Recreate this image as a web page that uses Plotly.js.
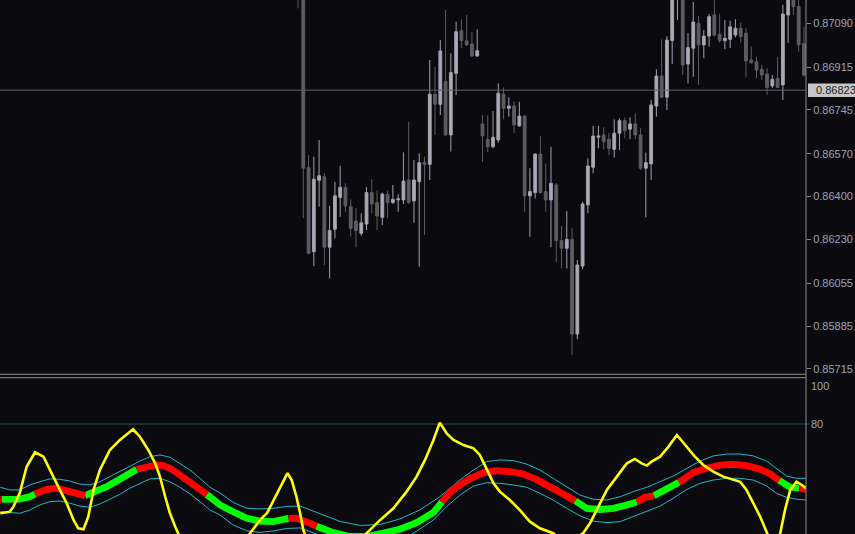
<!DOCTYPE html>
<html>
<head>
<meta charset="utf-8">
<script src="https://cdn.plot.ly/plotly-3.0.1.min.js"></script>
<style>
html,body{margin:0;padding:0;background:#0b0b0f;}
#chart{width:855px;height:534px;}
</style>
</head>
<body>
<div id="chart"></div>
<script>
// ---------- price panel data (bar -1 .. 95) ----------
const open = [0.87241,0.87221,0.86515,0.86181,0.86465,0.86479,0.86199,0.86270,0.86397,0.86437,
0.86360,0.86303,0.86254,0.86291,0.86416,0.86376,0.86318,0.86409,0.86377,0.86387,
0.86387,0.86466,0.86383,0.86459,0.86536,0.86528,0.86807,0.86767,0.86857,0.86645,
0.86890,0.87059,0.87019,0.87007,0.86959,0.86689,0.86628,0.86598,0.86625,0.86807,
0.86751,0.86760,0.86681,0.86720,0.86403,0.86416,0.86569,0.86420,0.86387,0.86446,
0.86225,0.86195,0.86230,0.85854,0.86124,0.86367,0.86517,0.86636,0.86645,0.86628,
0.86588,0.86652,0.86702,0.86668,0.86689,0.86645,0.86513,0.86530,0.86760,0.86879,
0.86795,0.87020,0.87229,0.87213,0.86927,0.86990,0.87089,0.87003,0.87038,0.87122,
0.87045,0.87020,0.87025,0.87042,0.87069,0.87049,0.86943,0.86936,0.86906,0.86887,
0.86840,0.86870,0.86844,0.87122,0.87193,0.87155,0.87009];
const high = [0.87261,0.87229,0.86565,0.86559,0.86625,0.86494,0.86364,0.86459,0.86522,0.86453,
0.86389,0.86354,0.86334,0.86437,0.86469,0.86424,0.86416,0.86424,0.86446,0.86410,
0.86576,0.86698,0.86546,0.86572,0.86559,0.86943,0.86916,0.87022,0.87142,0.86970,
0.87095,0.87105,0.87122,0.87053,0.87065,0.86724,0.86724,0.86740,0.86850,0.86834,
0.86795,0.86777,0.86777,0.86724,0.86513,0.86572,0.86641,0.86532,0.86598,0.86455,
0.86283,0.86343,0.86274,0.86148,0.86380,0.86552,0.86681,0.86681,0.86676,0.86654,
0.86707,0.86711,0.86715,0.86715,0.86731,0.86672,0.86575,0.86784,0.86906,0.87025,
0.87038,0.87241,0.87281,0.87241,0.87050,0.87173,0.87118,0.87062,0.87126,0.87181,
0.87126,0.87102,0.87099,0.87105,0.87091,0.87069,0.86996,0.86956,0.86923,0.86910,
0.86883,0.86954,0.87162,0.87221,0.87213,0.87181,0.87075];
const low = [0.87148,0.86314,0.86172,0.86124,0.86360,0.86128,0.86075,0.86234,0.86320,0.86340,
0.86241,0.86199,0.86244,0.86267,0.86334,0.86267,0.86287,0.86314,0.86371,0.86340,
0.86371,0.86371,0.86296,0.86122,0.86248,0.86466,0.86645,0.86724,0.86641,0.86579,
0.86804,0.86990,0.86999,0.86956,0.86956,0.86539,0.86577,0.86592,0.86614,0.86707,
0.86718,0.86652,0.86678,0.86340,0.86241,0.86393,0.86413,0.86340,0.86199,0.86141,
0.86115,0.86115,0.85771,0.85833,0.86111,0.86334,0.86493,0.86592,0.86588,0.86565,
0.86556,0.86585,0.86632,0.86628,0.86628,0.86506,0.86318,0.86466,0.86718,0.86792,
0.86744,0.86927,0.87102,0.86883,0.86850,0.86876,0.86844,0.86950,0.86996,0.87036,
0.87012,0.86986,0.86990,0.87033,0.87012,0.86874,0.86929,0.86870,0.86864,0.86804,
0.86831,0.86831,0.86784,0.87011,0.87122,0.86976,0.86877];
const close = [0.87201,0.86513,0.86175,0.86469,0.86483,0.86199,0.86265,0.86403,0.86437,0.86363,
0.86274,0.86265,0.86296,0.86416,0.86371,0.86323,0.86410,0.86376,0.86389,0.86391,
0.86462,0.86377,0.86466,0.86535,0.86528,0.86807,0.86767,0.86979,0.86645,0.86893,
0.87055,0.87020,0.87003,0.86959,0.86980,0.86642,0.86598,0.86636,0.86811,0.86751,
0.86760,0.86685,0.86720,0.86403,0.86420,0.86569,0.86416,0.86387,0.86453,0.86225,
0.86195,0.86230,0.85854,0.86128,0.86371,0.86522,0.86641,0.86641,0.86618,0.86592,
0.86652,0.86702,0.86662,0.86689,0.86645,0.86513,0.86535,0.86764,0.86879,0.86795,
0.87022,0.87221,0.87253,0.86923,0.86992,0.87094,0.87003,0.87038,0.87115,0.87042,
0.87020,0.87029,0.87075,0.87069,0.87036,0.86939,0.86932,0.86903,0.86883,0.86834,
0.86866,0.86834,0.87126,0.87201,0.87155,0.87003,0.86883];
const firstBar = -1;

const priceTickVals = [0.87090,0.86915,0.86745,0.86570,0.86400,0.86230,0.86055,0.85885,0.85715];
const priceTickText = ['0.87090','0.86915','0.86745','0.86570','0.86400','0.86230','0.86055','0.85885','0.85715'];
const currentPrice = 0.86823;
const currentPriceText = '0.86823';

// ---------- oscillator panel data ----------
const oscTickVals = [100, 80];
const oscTickText = ['100', '80'];
const oscLevel = 80;

const yellowX = [-57.5,-55.7,-55.0,-53.8,-52.5,-50.9,-49.3,-48.1,-46.5,-44.9,-43.6,-42.7,-41.7,-40.8,-39.8,-38.6,-36.7,-34.8,-32.3,-31.0,
-29.4,-28.1,-27.2,-26.2,-25.3,-24.3,-23.0,-20.5,-17.5,-14.0,-11.5,-10.1,-8.2,-6.9,-5.0,-3.8,-3.0,-2.2,-1.3,-0.6,
0.0,1.0,4.0,7.5,10.5,12.0,14.6,17.1,19.6,21.5,23.1,24.7,25.9,27.2,28.5,30.4,32.3,33.5,34.8,36.1,
37.3,39.2,41.1,43.0,44.9,47.4,50.0,53.1,54.4,55.7,57.6,59.5,61.4,62.9,64.2,65.2,66.1,67.7,69.3,70.9,
72.8,74.3,75.9,77.8,79.7,81.6,82.9,84.1,85.4,86.7,87.9,89.2,90.5,91.4,92.4,93.6,94.6,95.4];
const yellowY = [33.0,33.8,36.5,43.7,57.5,65.1,62.8,55.8,47.0,38.3,29.5,25.1,24.6,31.2,45.3,55.8,66.3,71.6,77.2,73.3,
66.3,59.3,52.3,41.7,33.0,25.9,18,10,7,10,17,22.5,29.5,33.0,43.5,50.5,54.1,50.5,41.7,33.0,
24.2,17,9,8,15,22.5,29.5,35.6,44.4,52.3,61.1,71.6,80.7,75.1,71.6,68.9,67.2,63.7,55.8,48.8,
44.4,40.0,34.7,28.6,25.1,22.5,17,22.5,27.7,34.7,45.3,52.3,59.3,61.6,59.3,58.1,60.2,62.8,68.1,74.2,
68.1,62.8,58.4,54.9,52.3,50.9,49.6,45.3,38.3,31.2,23.3,14,22.5,34.7,45.3,49.6,47.9,46.2];

const trendX = [-57.5,-57.2,-55.7,-53.8,-51.9,-50.9,-48.7,-46.8,-44.9,-43.0,-41.4,-39.2,-37.3,-35.4,-33.5,-31.6,-29.7,-27.8,-26.6,-25.3,
-23.4,-21.5,-19.6,-18.3,-15.8,-13.3,-10.7,-8.2,-5.7,-2.8,-1.3,1.3,2.5,5.7,8.9,12.0,15.2,18.3,21.5,24.7,
25.9,26.3,27.5,29.1,31.6,34.2,36.7,39.2,41.7,44.3,46.8,49.3,51.6,53.8,56.3,58.8,61.4,63.3,64.8,66.5,
69.0,71.3,74.0,76.5,79.1,81.6,84.1,86.7,88.6,90.3,92.4,94.1,95.4];
const trendY = [40.4,40.3,40.0,40.5,41.7,43.2,45.6,46.2,45.3,43.5,42.3,44.4,47.0,50.0,52.6,56.2,57.5,58.4,58.1,56.7,
53.2,49.6,45.6,42.9,37.4,33.8,30.4,28.9,28.6,30.3,30.4,27.7,26.2,22.8,20.8,20.8,22.6,24.6,28.1,33.5,
37.5,39.0,43.0,46.8,51.2,54.4,55.4,54.9,53.7,50.7,47.2,43.0,39.6,35.6,35.0,35.6,37.4,38.9,41.4,42.2,
46.2,49.3,54.4,56.7,58.3,58.8,58.1,56.2,53.7,50.3,46.7,46.2,45.6];
// colour of the segment that starts at each point: 'g' rising, 'r' falling
const trendDir = ['r','g','g','g','g','r','r','r','r','r','g','g','g','g','g','r','r','r','r','r',
'r','r','r','g','g','g','g','g','g','r','r','r','g','g','g','g','g','g','g','g',
'g','r','r','r','r','r','r','r','r','r','r','r','g','g','g','g','g','r','r','g',
'g','r','r','r','r','r','r','r','r','g','g','r','r'];

const bandUpX = [-57.5,-55.7,-53.8,-51.9,-50.0,-48.1,-46.2,-44.3,-42.4,-40.5,-38.6,-36.7,-34.8,-32.9,-31.0,-29.1,-27.2,-25.3,-23.4,-21.5,
-19.6,-17.7,-15.8,-13.3,-10.7,-8.2,-5.7,-3.2,-0.6,3.2,7.0,10.8,14.6,18.3,22.1,25.9,29.7,32.3,34.8,37.3,
39.9,42.4,44.9,47.4,50.0,52.5,55.0,57.6,60.1,62.6,65.2,67.7,70.2,72.8,75.3,77.8,80.3,82.9,85.4,87.9,
89.8,91.7,93.6,95.4];
const bandUpY = [46.7,45.3,45.3,47.9,49.6,51.1,50.9,50.0,48.4,47.9,49.6,52.3,54.9,57.9,60.5,62.8,63.7,62.5,59.3,55.8,
51.4,46.7,43.7,38.7,35.6,35.3,35.6,36.6,36.8,32.6,28.7,26.6,27.1,30.0,34.7,41.7,50.5,55.8,60.2,61.1,
60.7,58.9,55.8,51.4,47.0,42.6,40.4,40.0,41.7,44.4,46.7,49.6,52.6,56.7,60.5,63.2,64.2,64.2,63.2,60.5,
56.7,52.6,51.4,51.4];
const bandLoX = [-57.5,-55.7,-53.8,-51.9,-50.0,-48.1,-46.2,-44.3,-42.4,-40.5,-38.6,-36.7,-34.8,-32.9,-31.0,-29.1,-27.2,-25.3,-23.4,-21.5,
-19.6,-17.7,-15.8,-13.3,-10.7,-8.2,-5.7,-3.2,-0.6,3.2,7.0,10.8,14.6,18.3,20.9,24.7,27.2,29.7,32.3,34.8,
37.3,39.9,42.4,44.9,47.4,50.0,52.5,55.0,57.6,60.1,62.6,65.2,67.7,70.2,72.8,75.3,77.8,80.3,82.9,85.4,
87.9,89.8,91.7,93.6,95.4];
const bandLoY = [33.8,33.3,33.0,34.7,37.4,39.1,39.5,38.3,36.8,36.2,37.9,40.4,43.0,46.2,48.8,51.1,51.4,49.6,46.7,43.2,
39.1,34.7,32.1,26.8,23.8,22.9,23.7,25.0,25.3,21.6,17.5,15.5,16.0,19.0,22.5,29.5,36.5,42.6,47.4,49.1,
48.8,47.9,46.7,43.5,40.0,35.6,31.7,28.9,28.1,28.6,31.2,33.8,36.8,40.9,45.6,48.8,50.5,51.4,51.4,50.5,
47.4,43.5,41.4,40.4,40.0];

// ---------- build traces ----------
const bars = open.map((_, i) => firstBar + i);

function pick(xs, ys, dirs, want) {
  const X = [], Y = [];
  let prevEnd = -2;
  for (let i = 0; i < xs.length - 1; i++) {
    if (dirs[i] !== want) continue;
    if (prevEnd !== i) {
      if (X.length) { X.push(null); Y.push(null); }
      X.push(xs[i]); Y.push(ys[i]);
    }
    X.push(xs[i + 1]); Y.push(ys[i + 1]);
    prevEnd = i + 1;
  }
  return {X, Y};
}
const green = pick(trendX, trendY, trendDir, 'g');
const red = pick(trendX, trendY, trendDir, 'r');

const traces = [
  {
    type: 'candlestick', x: bars, open: open, high: high, low: low, close: close,
    xaxis: 'x', yaxis: 'y',
    increasing: {line: {color: '#a0a0b0', width: 1}, fillcolor: '#aaaaba'},
    decreasing: {line: {color: '#5c5c61', width: 1}, fillcolor: '#5c5c61'},
    whiskerwidth: 0, hoverinfo: 'skip'
  },
  {type: 'scatter', mode: 'lines', x: bandUpX, y: bandUpY, xaxis: 'x', yaxis: 'y2',
   line: {color: '#22b5c9', width: 1}, hoverinfo: 'skip'},
  {type: 'scatter', mode: 'lines', x: bandLoX, y: bandLoY, xaxis: 'x', yaxis: 'y2',
   line: {color: '#22b5c9', width: 1}, hoverinfo: 'skip'},
  {type: 'scatter', mode: 'lines', x: green.X, y: green.Y, xaxis: 'x', yaxis: 'y2',
   line: {color: '#00ff00', width: 6.8}, connectgaps: false, hoverinfo: 'skip'},
  {type: 'scatter', mode: 'lines', x: red.X, y: red.Y, xaxis: 'x', yaxis: 'y2',
   line: {color: '#ff0000', width: 6.8}, connectgaps: false, hoverinfo: 'skip'},
  {type: 'scatter', mode: 'lines', x: yellowX, y: yellowY, xaxis: 'x', yaxis: 'y2',
   line: {color: '#ffff00', width: 2.6}, hoverinfo: 'skip'}
];

const tickFont = {family: 'Liberation Sans, Arial, sans-serif', size: 11, color: '#9aa2b8'};
const gridGray = '#8c8c8c';

const layout = {
  width: 855, height: 534,
  margin: {l: 0, r: 49, t: 0, b: 0, pad: 0},
  paper_bgcolor: '#0b0b0f', plot_bgcolor: '#0b0b0f',
  showlegend: false, hovermode: false, boxgap: 0.24,
  xaxis: {range: [-57.55, 95.39], visible: false, rangeslider: {visible: false}, fixedrange: true},
  yaxis: {
    domain: [0.2987, 1], range: [0.856931, 0.871814], side: 'right',
    tickvals: priceTickVals, ticktext: priceTickText,
    ticks: 'outside', ticklen: 4, tickcolor: gridGray, tickwidth: 1,
    showgrid: false, zeroline: false, showline: false, tickfont: tickFont, fixedrange: true
  },
  yaxis2: {
    domain: [0, 0.2927], range: [22.1, 104.37], side: 'right', anchor: 'x',
    tickvals: oscTickVals, ticktext: oscTickText, ticks: '',
    showgrid: false, zeroline: false, showline: false, tickfont: tickFont, fixedrange: true,
    ticklabelstandoff: 4
  },
  shapes: [
    {type: 'line', xref: 'paper', yref: 'paper', x0: 1, x1: 1, y0: 0, y1: 1, line: {color: gridGray, width: 1}},
    {type: 'line', xref: 'paper', yref: 'paper', x0: 0, x1: 1, y0: 0.2991, y1: 0.2991, line: {color: gridGray, width: 1}},
    {type: 'line', xref: 'paper', yref: 'paper', x0: 0, x1: 1, y0: 0.2927, y1: 0.2927, line: {color: gridGray, width: 1}},
    {type: 'line', xref: 'paper', yref: 'y', x0: 0, x1: 1, y0: currentPrice, y1: currentPrice, line: {color: '#5f5f66', width: 1}},
    {type: 'line', xref: 'paper', yref: 'y2', x0: 0, x1: 1.004, y0: oscLevel, y1: oscLevel, line: {color: '#2e5256', width: 1}, layer: 'below'},
    {type: 'rect', xref: 'paper', yref: 'y', x0: 1.0025, x1: 1.07, y0: currentPrice - 0.000268, y1: currentPrice + 0.000268,
     fillcolor: '#c6c6c6', line: {width: 0}, layer: 'above'}
  ],
  annotations: [
    {xref: 'paper', yref: 'y', x: 1, y: currentPrice, xanchor: 'left', yanchor: 'middle', xshift: 8,
     text: currentPriceText, showarrow: false, font: {family: 'Liberation Sans, Arial, sans-serif', size: 11, color: '#222222'}}
  ]
};

Plotly.newPlot('chart', traces, layout, {staticPlot: true, displayModeBar: false});
</script>
</body>
</html>
